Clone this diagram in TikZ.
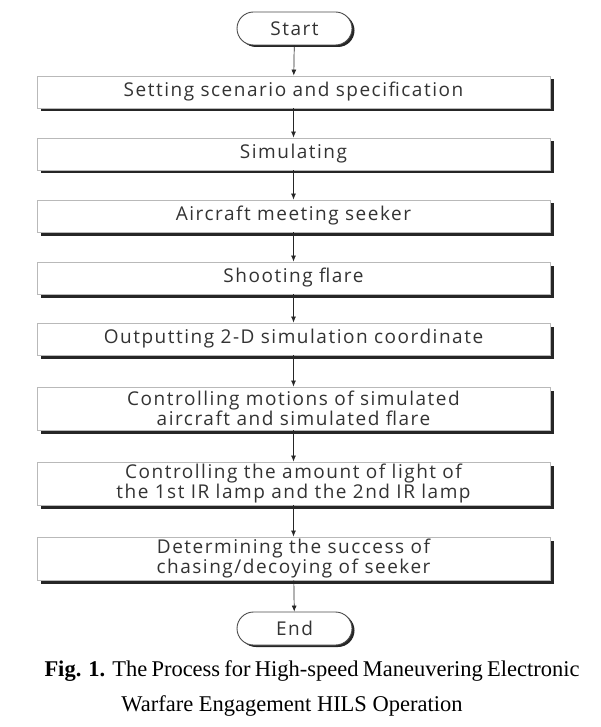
\documentclass[tikz,border=0pt]{standalone}
\usepackage{fontspec}
\setmainfont{Liberation Serif}
\newfontfamily\boxfont[LetterSpace=8,WordSpace=1.6]{Open Sans}
\usetikzlibrary{shapes.misc,shadows,arrows.meta}
\begin{document}
\begin{tikzpicture}[x=1pt,y=-1pt,
  stepbox/.style={draw=gray!55,line width=0.9pt,fill=white,minimum width=513pt,
    text width=505pt,align=center,inner sep=0pt,
    font=\boxfont\fontsize{19}{20.5}\selectfont,text=black!80,
    drop shadow={shadow xshift=3.5pt,shadow yshift=-3.5pt,opacity=1,fill=black!85}},
  termbox/.style={rounded rectangle,draw=black!70,line width=0.9pt,fill=white,
    minimum width=115pt,minimum height=33pt,inner sep=0pt,
    font=\boxfont\fontsize{19}{20.5}\selectfont,text=black!80,
    drop shadow={shadow xshift=2.5pt,shadow yshift=-2pt,opacity=1,fill=black!85}},
  flow/.style={-{Latex[length=6pt,width=5pt]},line width=0.7pt,black!85}]
\useasboundingbox (0,0) rectangle (600,727);
\node[termbox] (start) at (294.5,28.5) {Start};
\node[stepbox,minimum height=32pt] (b1) at (293.5,92) {Setting scenario and specification};
\node[stepbox,minimum height=32pt] (b2) at (293.5,154) {Simulating};
\node[stepbox,minimum height=32pt] (b3) at (293.5,216) {Aircraft meeting seeker};
\node[stepbox,minimum height=32pt] (b4) at (293.5,278) {Shooting flare};
\node[stepbox,minimum height=32pt] (b5) at (293.5,339) {Outputting 2-D simulation coordinate};
\node[stepbox,minimum height=43pt] (b6) at (293.5,408.5) {Controlling motions of simulated\\aircraft and simulated flare};
\node[stepbox,minimum height=43pt] (b7) at (293.5,483.5) {Controlling the amount of light of\\the 1st IR lamp and the 2nd IR lamp};
\node[stepbox,minimum height=43pt] (b8) at (293.5,558.5) {Determining the success of\\chasing/decoying of seeker};
\node[termbox] (end) at (294.5,628.5) {End};
\draw[flow] (start) -- (b1);
\draw[flow] (b1) -- (b2);
\draw[flow] (b2) -- (b3);
\draw[flow] (b3) -- (b4);
\draw[flow] (b4) -- (b5);
\draw[flow] (b5) -- (b6);
\draw[flow] (b6) -- (b7);
\draw[flow] (b7) -- (b8);
\draw[flow] (b8) -- (end);
\node[inner sep=0pt,font=\fontsize{22.5}{25}\selectfont] (cap1) at (312,671) {\makebox[535pt][s]{\textbf{Fig. 1.} The Process for High-speed Maneuvering Electronic}};
\node[inner sep=0pt,font=\fontsize{22.5}{25}\selectfont] (cap2) at (292,706) {Warfare Engagement HILS Operation};
\end{tikzpicture}
\end{document}
